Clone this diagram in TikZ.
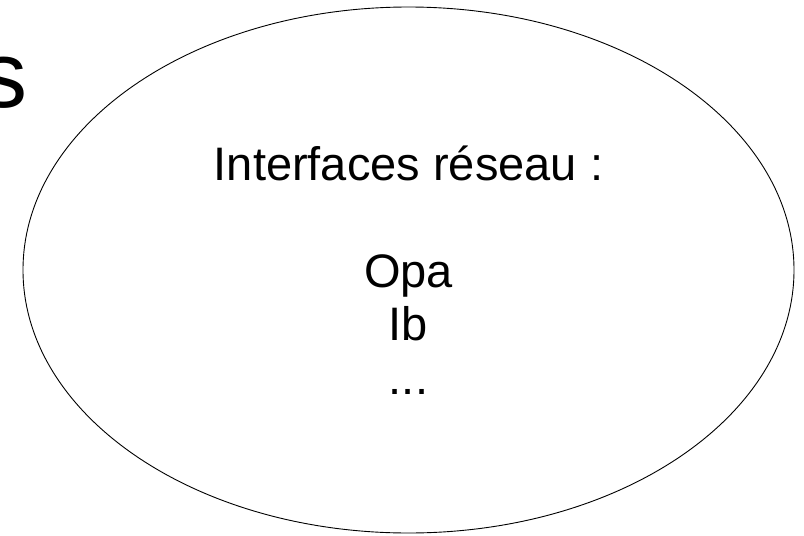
\documentclass[tikz,border=0pt]{standalone}
\usepackage{fontspec}
\setmainfont{Liberation Sans}
\usetikzlibrary{positioning, shapes.geometric}

\begin{document}
\begin{tikzpicture}[x=1pt, y=-1pt]
  \tikzstyle{bubble} = [ellipse, draw=black, line width=0.9pt, minimum width=771pt, minimum height=526pt, inner sep=0pt, align=center, font=\fontsize{47}{53.5}\selectfont]
  \tikzstyle{bigtext} = [inner sep=0pt, font=\fontsize{94}{94}\selectfont]

  \useasboundingbox (0,0) rectangle (804,536);

  \node (netif) [bubble] at (408.5,270) {Interfaces réseau :\\ \\Opa\\Ib\\...};
  \node (frag) [bigtext, anchor=base west] at (-19.7,107) {s};

\end{tikzpicture}
\end{document}
